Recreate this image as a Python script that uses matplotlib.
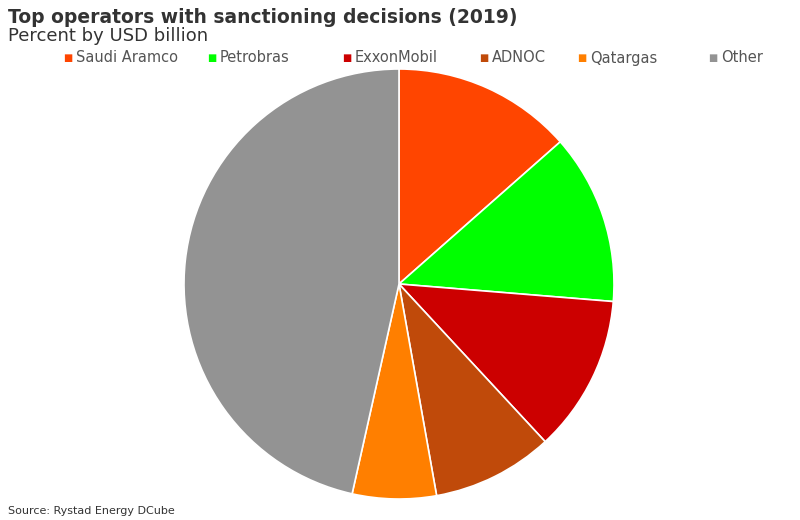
import matplotlib.pyplot as plt

operators = ['Saudi Aramco', 'Petrobras', 'ExxonMobil', 'ADNOC', 'Qatargas', 'Other']
shares = [13.5, 12.8, 11.8, 9.1, 6.3, 46.5]
colors = ['#FF4500', '#00FF00', '#CC0000', '#C04A0A', '#FF7F00', '#939393']

fig = plt.figure(figsize=(8, 5.2), dpi=100)
# pie axes: centre ~ (399, 284) px, radius ~ 215 px
ax = fig.add_axes([(399 - 215) / 800, (236 - 215) / 520, 430 / 800, 430 / 520])
ax.pie(shares, colors=colors, startangle=90, counterclock=False,
       wedgeprops=dict(edgecolor='white', linewidth=1.2))
ax.set_xlim(-1, 1)
ax.set_ylim(-1, 1)
ax.set_aspect('equal')

fig.text(0.01, 0.985, 'Top operators with sanctioning decisions (2019)',
         fontsize=13.5, fontweight='bold', color='#333333', va='top')
fig.text(0.01, 0.948, 'Percent by USD billion', fontsize=13, color='#333333', va='top')

x_pos = [63, 207, 342, 479, 577, 708]
for x, name, c in zip(x_pos, operators, colors):
    fig.text(x / 800, 1 - 58 / 520, '\u25A0', color=c, fontsize=7, va='center')
    fig.text((x + 13) / 800, 1 - 58 / 520, name, color='#555555', fontsize=10.5, va='center')

fig.text(0.01, 0.012, 'Source: Rystad Energy DCube', fontsize=8, color='#333333')

plt.savefig('out.png', dpi=100)
